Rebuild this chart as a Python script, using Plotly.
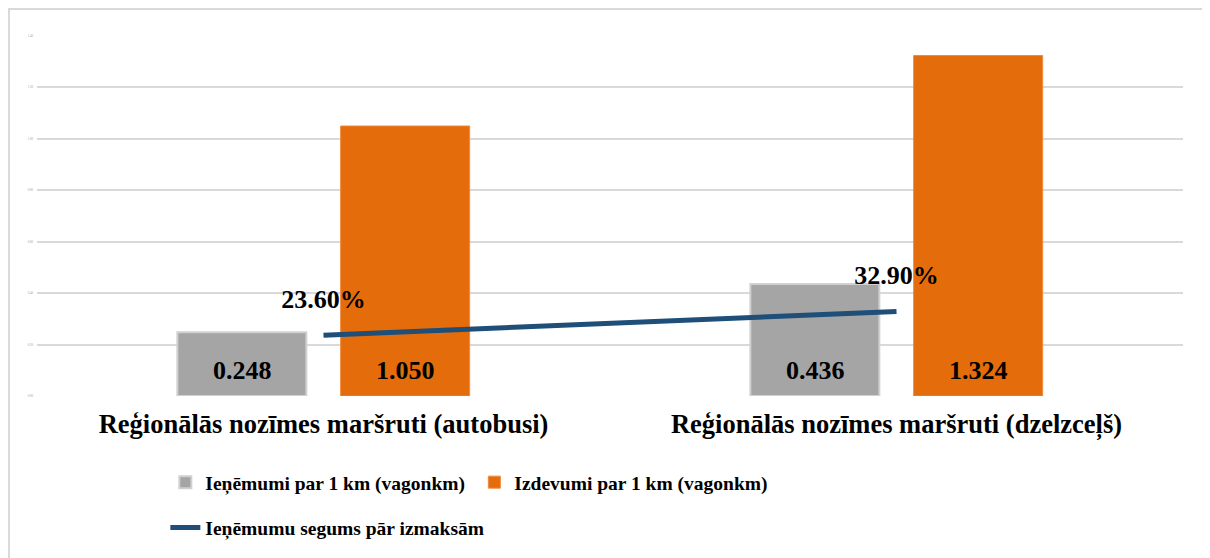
import plotly.graph_objects as go

categories = ["Reģionālās nozīmes maršruti (autobusi)", "Reģionālās nozīmes maršruti (dzelzceļš)"]
revenue = [0.248, 0.436]
cost = [1.050, 1.324]
coverage = [0.236, 0.329]
coverage_labels = ["23.60%", "32.90%"]
series_names = ["Ieņēmumi par 1 km (vagonkm)", "Izdevumi par 1 km (vagonkm)", "Ieņēmumu segums pār izmaksām"]

FONT = "Liberation Serif"
GRAY = "#a5a5a5"
ORANGE = "#e46c0a"
BLUE = "#1f4e79"
GRID = "#d9d9d9"
LABEL_FONT = dict(family=FONT, size=26, color="black", weight="bold")

fig = go.Figure()
fig.add_trace(go.Bar(
    x=categories, y=revenue, name=series_names[0],
    marker=dict(color=GRAY, line=dict(color="#d0d0d0", width=2)),
    legend="legend",
))
fig.add_trace(go.Bar(
    x=categories, y=cost, name=series_names[1],
    marker=dict(color=ORANGE, line=dict(color="#f08a3c", width=1)),
    legend="legend",
))
fig.add_trace(go.Scatter(
    x=categories, y=coverage, name=series_names[2], mode="lines+markers+text",
    line=dict(color=BLUE, width=5),
    marker=dict(size=32, color="rgba(0,0,0,0)"),
    text=coverage_labels, textposition="top center",
    textfont=LABEL_FONT,
    legend="legend2",
))

annotations = []
for i, cat in enumerate(categories):
    for vals, shift in ((revenue, -81.5), (cost, 81.5)):
        annotations.append(dict(
            x=cat, y=0, xref="x", yref="y", text=f"{vals[i]:.3f}", showarrow=False,
            xanchor="center", yanchor="middle", xshift=shift, yshift=26, font=LABEL_FONT,
        ))

fig.update_layout(
    width=1210, height=558,
    margin=dict(l=29, r=35, t=28, b=170),
    paper_bgcolor="white", plot_bgcolor="white",
    barmode="group", bargap=0.43, bargroupgap=0.21,
    font=dict(family=FONT, color="black"),
    xaxis=dict(showgrid=False, showline=False, ticks="", ticklabelstandoff=9,
               tickfont=dict(family=FONT, size=26.5, color="black", weight="bold")),
    yaxis=dict(range=[0, 1.4], dtick=0.2, tickformat=".2f", showgrid=True, gridcolor=GRID,
               gridwidth=2, zeroline=False, showline=False, ticks="",
               tickfont=dict(size=3, color="#999999"), ticklabelstandoff=3),
    legend=dict(orientation="h", x=0.112, y=-0.186, xanchor="left", yanchor="top",
                entrywidth=264, entrywidthmode="pixels",
                font=dict(family=FONT, size=19.5, color="black", weight="bold"),
                bgcolor="rgba(0,0,0,0)"),
    legend2=dict(orientation="h", x=0.112, y=-0.312, xanchor="left", yanchor="top",
                 font=dict(family=FONT, size=19.5, color="black", weight="bold"),
                 bgcolor="rgba(0,0,0,0)"),
    showlegend=True,
    annotations=annotations,
    shapes=[dict(type="rect", xref="paper", yref="paper", x0=-0.0244, x1=1.2, y0=-0.8, y1=1.075,
                 line=dict(color=GRID, width=2), fillcolor="rgba(0,0,0,0)", layer="below")],
)

fig.write_html("out.html")
